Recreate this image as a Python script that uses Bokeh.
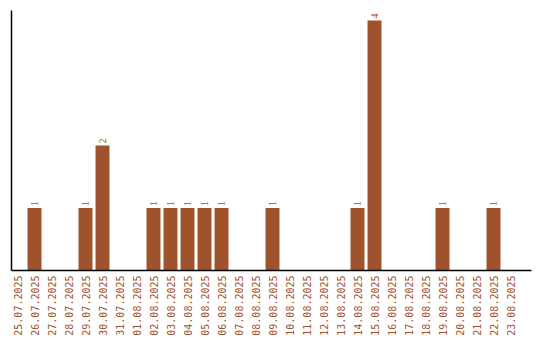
import math
from bokeh.plotting import figure
from bokeh.models import ColumnDataSource, Range1d, LabelSet, FixedTicker
from bokeh.embed import file_html
from bokeh.resources import INLINE

dates = ["25.07.2025", "26.07.2025", "27.07.2025", "28.07.2025", "29.07.2025",
         "30.07.2025", "31.07.2025", "01.08.2025", "02.08.2025", "03.08.2025",
         "04.08.2025", "05.08.2025", "06.08.2025", "07.08.2025", "08.08.2025",
         "09.08.2025", "10.08.2025", "11.08.2025", "12.08.2025", "13.08.2025",
         "14.08.2025", "15.08.2025", "16.08.2025", "17.08.2025", "18.08.2025",
         "19.08.2025", "20.08.2025", "21.08.2025", "22.08.2025", "23.08.2025"]
counts = [0, 1, 0, 0, 1, 2, 0, 0, 1, 1, 1, 1, 1, 0, 0, 1, 0, 0, 0, 0,
          1, 4, 0, 0, 0, 1, 0, 0, 1, 0]

color = "#A0522D"
font = "DejaVu Sans Mono"

idx = list(range(len(dates)))
bx = [i for i, c in zip(idx, counts) if c > 0]
by = [c for c in counts if c > 0]
src = ColumnDataSource(dict(x=bx, y=by, t=[str(c) for c in by]))

p = figure(width=540, height=340, x_range=Range1d(-0.353, 30.235),
           y_range=Range1d(0, 4.16), output_backend="svg", toolbar_location=None,
           min_border_left=11, min_border_right=9, min_border_top=10, min_border_bottom=70)
p.vbar(x="x", top="y", width=0.82, source=src, fill_color=color, line_color=None)

labels = LabelSet(x="x", y="y", text="t", source=src, angle=math.pi / 2,
                  text_align="left", text_baseline="middle", x_offset=0, y_offset=2,
                  text_font=font, text_font_size="10px", text_color=color)
p.add_layout(labels)

p.xgrid.visible = False
p.ygrid.visible = False
p.outline_line_color = None

p.xaxis.ticker = FixedTicker(ticks=idx)
p.xaxis.major_label_overrides = {i: d for i, d in zip(idx, dates)}
p.xaxis.major_label_orientation = math.pi / 2
p.xaxis.major_label_text_font = font
p.xaxis.major_label_text_font_size = "10px"
p.xaxis.major_label_text_color = color
p.xaxis.major_tick_line_color = None
p.xaxis.minor_tick_line_color = None
p.xaxis.major_tick_out = 0
p.xaxis.minor_tick_out = 0
p.xaxis.major_label_standoff = 5
p.xaxis.axis_line_color = "black"
p.xaxis.axis_line_width = 1.5

p.yaxis.ticker = FixedTicker(ticks=[])
p.yaxis.major_tick_line_color = None
p.yaxis.minor_tick_line_color = None
p.yaxis.major_tick_out = 0
p.yaxis.minor_tick_out = 0
p.yaxis.major_label_standoff = 0
p.yaxis.axis_line_color = "black"
p.yaxis.axis_line_width = 1.5

open("out.html", "w").write(file_html(p, INLINE))
